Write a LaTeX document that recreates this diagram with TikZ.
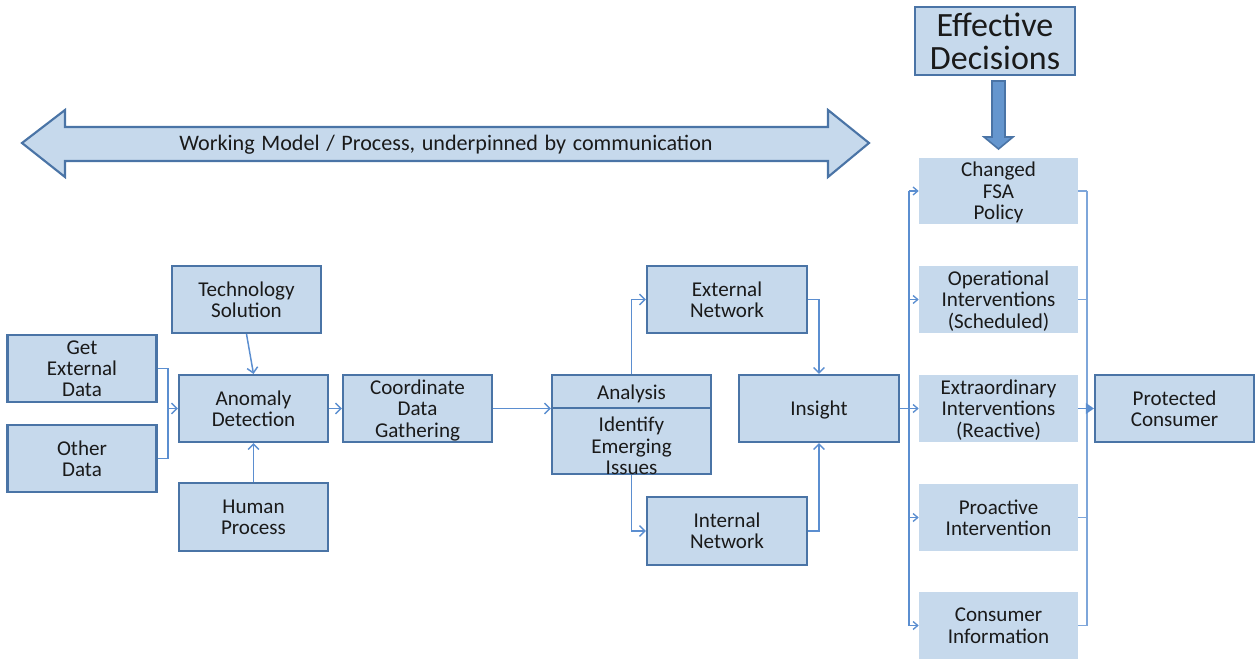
\documentclass[tikz,border=0pt]{standalone}
\usepackage{fontspec}
\setmainfont{Carlito}
\usetikzlibrary{arrows.meta}
\definecolor{fillc}{HTML}{C6D9EC}
\definecolor{bordc}{HTML}{4A74A6}
\definecolor{connc}{HTML}{5B8ED0}
\definecolor{conn2}{HTML}{7EA6DA}
\definecolor{fatc}{HTML}{6596CE}
\definecolor{txtc}{HTML}{1A1A1A}
\tikzset{
  box/.style={draw=bordc, fill=fillc, line width=1.6pt, inner sep=0pt, align=center,
    font=\fontsize{15.8}{16}\selectfont, text=txtc, text depth=0pt},
  pbox/.style={fill=fillc, inner sep=0pt, align=center,
    font=\fontsize{15.8}{16}\selectfont, text=txtc, text depth=0pt},
  txt/.style={inner sep=0pt, align=center, font=\fontsize{15.8}{16}\selectfont, text=txtc},
  line/.style={draw=connc, line width=1.1pt},
  arr/.style={line, -{Straight Barb[length=4pt,width=8pt,line width=1.1pt]}},
  line2/.style={draw=conn2, line width=1.1pt},
  arr2/.style={draw=connc, line width=1.1pt, -{Straight Barb[length=3.5pt,width=6pt,line width=1pt]}},
  arr3/.style={draw=connc, line width=1.1pt, -{Triangle[length=6pt,width=8pt]}},
}
\newcommand\bx[6]{\node[#1, minimum width=#4*0.75pt, minimum height=#5*0.75pt] (#2) at (#3) {#6};}
\begin{document}
\begin{tikzpicture}[x=0.75pt,y=-0.75pt]
\useasboundingbox (0,0) rectangle (1255,659);
% double arrow
\draw[draw=bordc, fill=fillc, line width=1.6pt, line join=miter]
  (22,143) -- (65,110) -- (65,127) -- (828,127) -- (828,110) -- (869,143)
  -- (828,177) -- (828,161) -- (65,161) -- (65,177) -- cycle;
\node[txt, font={\fontsize{16.6}{17}\selectfont}] (wm) at (446,145) {\spaceskip=0.3em\relax Working Model / Process, underpinned by communication};
% left boxes
\bx{box}{ged}{82,368.5}{149}{67}{Get\\External\\Data}
\bx{box}{oth}{82,458.5}{149}{67}{Other\\Data}
\bx{box}{tech}{246.5,299.5}{149}{67}{Technology\\Solution}
\bx{box}{anom}{253.5,408.5}{149}{67}{Anomaly\\Detection}
\bx{box}{hum}{253.5,517}{149}{68}{Human\\Process}
\bx{box}{coord}{417.5,408.5}{149}{67}{Coordinate\\Data\\Gathering}
\bx{box}{ana}{631.5,424.5}{159}{99}{}
\coordinate (anaDiv) at (631.5,408);
\draw[draw=bordc, line width=1.6pt] (ana.west |- anaDiv) -- (ana.east |- anaDiv);
\node[txt] (anaT) at (631.5,393.5) {Analysis};
\node[txt] (anaB) at (631.5,446) {Identify\\Emerging\\Issues};
\bx{box}{ext}{727,299.5}{160}{67}{External\\Network}
\bx{box}{int}{727,531}{160}{68}{Internal\\Network}
\bx{box}{ins}{819,408.5}{160}{67}{Insight}
\node[box, minimum width=160*0.75pt, minimum height=68*0.75pt,
  font=\fontsize{25.5}{24.5}\selectfont] (eff) at (995,41) {Effective\\Decisions};
% right boxes
\bx{pbox}{rb1}{998.5,191}{159}{66}{Changed\\FSA\\Policy}
\bx{pbox}{rb2}{998.5,299.5}{159}{67}{Operational\\Interventions\\(Scheduled)}
\bx{pbox}{rb3}{998.5,408.5}{159}{67}{Extraordinary\\Interventions\\(Reactive)}
\bx{pbox}{rb4}{998.5,517.5}{159}{67}{Proactive\\Intervention}
\bx{pbox}{rb5}{998.5,625.5}{159}{67}{Consumer\\Information}
\bx{box}{prot}{1174.5,408.5}{159}{67}{Protected\\Consumer}
% fat arrow
\draw[draw=bordc, fill=fatc, line width=1.2pt, line join=miter]
  (992,81) -- (1005,81) -- (1005,137) -- (1013,137) -- (998.5,149) -- (984,137) -- (992,137) -- cycle;
% connectors left
\coordinate (j1) at (168,408.5);
\draw[line] (ged.east) -| (j1) |- (oth.east);
\draw[arr] (j1) -- (anom.west);
\draw[arr] (tech.south) -- (anom.north);
\draw[arr] (hum.north) -- (anom.south);
\draw[arr] (anom.east) -- (coord.west);
\draw[arr] (coord.east) -- (coord.east -| ana.west);
\draw[arr] (ana.north) |- (ext.west);
\draw[arr] (ana.south) |- (int.west);
\draw[arr] (ext.east) -| (ins.north);
\draw[arr] (int.east) -| (ins.south);
% bus
\coordinate (busT) at (909,191);
\coordinate (busB) at (909,625.5);
\draw[line] (ins.east) -- (ins.east -| busT);
\draw[line] (busT) -- (busB);
\foreach \b in {rb1,rb2,rb3,rb4,rb5} {
  \draw[arr2] (busT |- \b.west) -- (\b.west);
}
\coordinate (rbusT) at (1087,191);
\coordinate (rbusB) at (1087,625.5);
\draw[line2] (rbusT) -- (rbusB);
\foreach \b in {rb1,rb2,rb4,rb5} {
  \draw[line2] (\b.east) -- (\b.east -| rbusT);
}
\draw[arr3] (rb3.east) -- (prot.west);
\end{tikzpicture}
\end{document}
